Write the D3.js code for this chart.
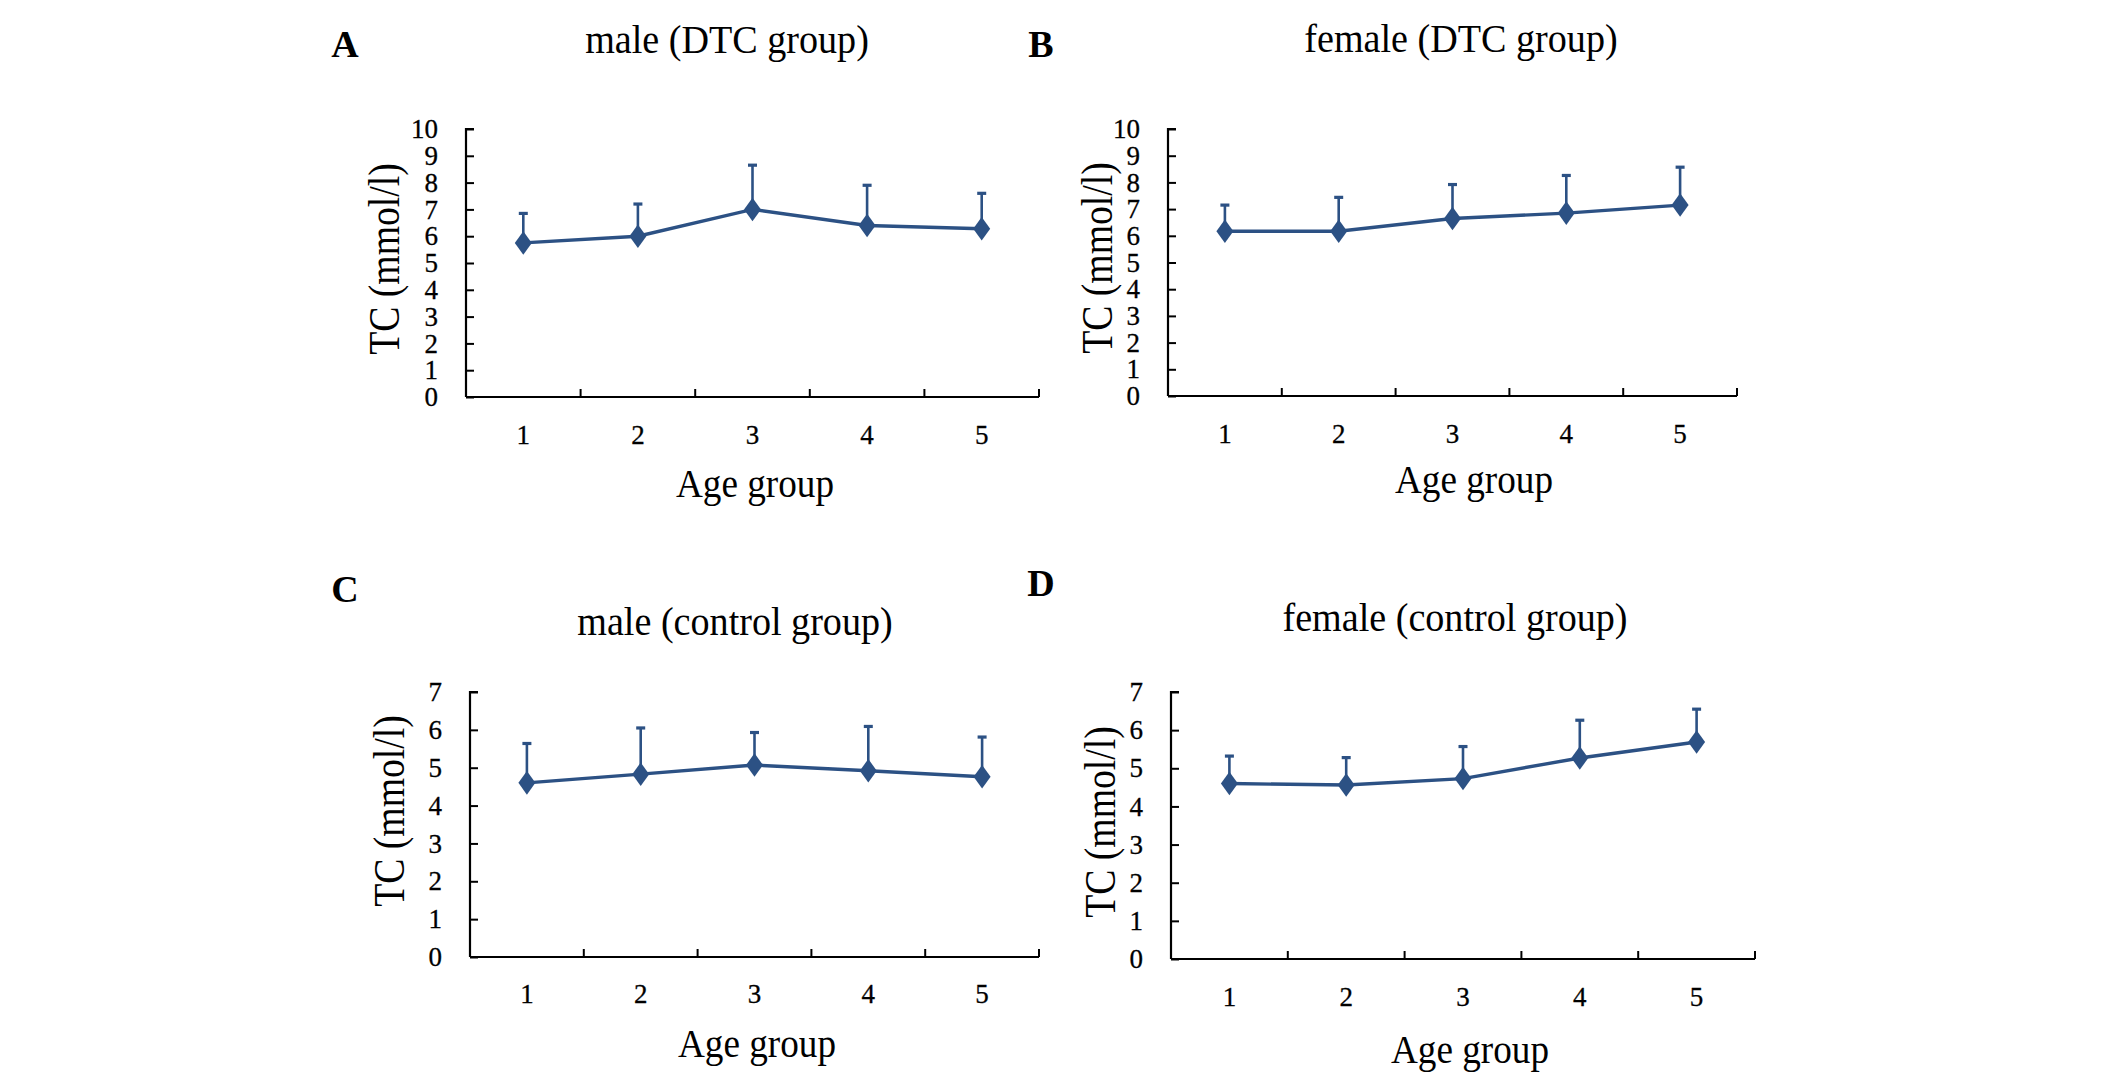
<!DOCTYPE html>
<html>
<head>
<meta charset="utf-8">
<script src="https://cdn.jsdelivr.net/npm/d3@7"></script>
<style>
  html, body { margin: 0; padding: 0; background: #fff; }
  svg { display: block; }
  text { font-family: "Liberation Serif", "Times New Roman", serif; fill: #000; }
</style>
</head>
<body>
<svg id="chart" width="2126" height="1079"></svg>
<script>
// ---- data ----
const ageGroups = ["1", "2", "3", "4", "5"];
const panelLetters = ["A", "B", "C", "D"];
const panelTitles = ["male (DTC group)", "female (DTC group)", "male (control group)", "female (control group)"];
const yAxisLabel = "TC (mmol/l)";
const xAxisLabel = "Age group";
const yMaxDTC = 10;
const yMaxControl = 7;

const maleDTCMean   = [5.75, 6.00, 7.00, 6.40, 6.28];
const maleDTCSD     = [1.10, 1.20, 1.65, 1.50, 1.32];
const femaleDTCMean = [6.17, 6.17, 6.65, 6.85, 7.15];
const femaleDTCSD   = [0.98, 1.27, 1.27, 1.41, 1.42];
const maleCtrlMean  = [4.60, 4.83, 5.07, 4.92, 4.76];
const maleCtrlSD    = [1.04, 1.22, 0.86, 1.17, 1.05];
const femaleCtrlMean = [4.60, 4.56, 4.73, 5.27, 5.69];
const femaleCtrlSD   = [0.72, 0.72, 0.84, 0.99, 0.86];

// ---- layout ----
const panels = [
  { letter: panelLetters[0], title: panelTitles[0], mean: maleDTCMean, sd: maleDTCSD, yMax: yMaxDTC,
    x0: 466, x1: 1039, yTop: 129, yBot: 397, letterX: 345, letterY: 57, titleX: 727, titleY: 53,
    tickLabelY: 444, xLabelX: 755, xLabelY: 497, yLabelX: 399, yLabelC: 259 },
  { letter: panelLetters[1], title: panelTitles[1], mean: femaleDTCMean, sd: femaleDTCSD, yMax: yMaxDTC,
    x0: 1168, x1: 1737, yTop: 129, yBot: 396, letterX: 1041, letterY: 57, titleX: 1461, titleY: 52,
    tickLabelY: 443, xLabelX: 1474, xLabelY: 493, yLabelX: 1112, yLabelC: 258 },
  { letter: panelLetters[2], title: panelTitles[2], mean: maleCtrlMean, sd: maleCtrlSD, yMax: yMaxControl,
    x0: 470, x1: 1039, yTop: 692, yBot: 957, letterX: 345, letterY: 602, titleX: 735, titleY: 635,
    tickLabelY: 1003, xLabelX: 757, xLabelY: 1057, yLabelX: 404, yLabelC: 811 },
  { letter: panelLetters[3], title: panelTitles[3], mean: femaleCtrlMean, sd: femaleCtrlSD, yMax: yMaxControl,
    x0: 1171, x1: 1755, yTop: 692, yBot: 959, letterX: 1041, letterY: 596, titleX: 1455, titleY: 631,
    tickLabelY: 1006, xLabelX: 1470, xLabelY: 1063, yLabelX: 1115, yLabelC: 822 }
];

const lineColor = "#2c5184";
const svg = d3.select("#chart");

panels.forEach(p => {
  const g = svg.append("g");
  const x = d3.scaleBand().domain(ageGroups).range([p.x0, p.x1]).padding(0);
  const y = d3.scaleLinear().domain([0, p.yMax]).range([p.yBot, p.yTop]);

  // panel letter
  g.append("text").attr("x", p.letterX).attr("y", p.letterY)
    .attr("text-anchor", "middle").attr("font-size", 38).attr("font-weight", "bold")
    .text(p.letter);
  // title
  g.append("text").attr("transform", `translate(${p.titleX},${p.titleY}) scale(0.93,1)`)
    .attr("text-anchor", "middle").attr("font-size", 41)
    .text(p.title);

  // y axis (ticks pointing inward)
  const yAxis = d3.axisLeft(y).ticks(p.yMax).tickSize(-8).tickPadding(28).tickFormat(d3.format("d"));
  const ya = g.append("g").attr("transform", `translate(${p.x0},0)`).call(yAxis);
  ya.attr("font-family", "Liberation Serif");
  ya.select(".domain").attr("stroke", "#000").attr("stroke-width", 2.2).attr("d", `M8,${p.yTop}H0V${p.yBot}`);
  ya.selectAll(".tick line").attr("stroke", "#000").attr("stroke-width", 2);
  ya.selectAll(".tick text").attr("font-size", 27).attr("font-family", "Liberation Serif")
    .attr("fill", "#000").attr("stroke", "#000").attr("stroke-width", 0.3);

  // x axis (ticks at band boundaries, pointing up)
  const bounds = ageGroups.map(c => x(c) + x.bandwidth());
  g.append("line").attr("x1", p.x0).attr("x2", p.x1).attr("y1", p.yBot).attr("y2", p.yBot)
    .attr("stroke", "#000").attr("stroke-width", 2.2);
  g.selectAll(".xtick").data(bounds).enter().append("line")
    .attr("x1", d => d).attr("x2", d => d).attr("y1", p.yBot).attr("y2", p.yBot - 8)
    .attr("stroke", "#000").attr("stroke-width", 2);
  g.selectAll(".xlab").data(ageGroups).enter().append("text")
    .attr("x", d => x(d) + x.bandwidth() / 2).attr("y", p.tickLabelY)
    .attr("text-anchor", "middle").attr("font-size", 27)
    .attr("stroke", "#000").attr("stroke-width", 0.3).text(d => d);

  // axis titles
  g.append("text").attr("transform", `translate(${p.xLabelX},${p.xLabelY}) scale(0.93,1)`)
    .attr("text-anchor", "middle").attr("font-size", 40).text(xAxisLabel);
  g.append("text")
    .attr("transform", `translate(${p.yLabelX},${p.yLabelC}) rotate(-90) scale(0.92,1.06)`)
    .attr("text-anchor", "middle").attr("font-size", 41).text(yAxisLabel);

  const cx = i => x(ageGroups[i]) + x.bandwidth() / 2;
  // error bars (upper only)
  const eb = g.append("g");
  p.mean.forEach((m, i) => {
    const top = y(m + p.sd[i]);
    eb.append("line").attr("x1", cx(i)).attr("x2", cx(i)).attr("y1", y(m)).attr("y2", top)
      .attr("stroke", lineColor).attr("stroke-width", 2.6);
    eb.append("line").attr("x1", cx(i) - 4.5).attr("x2", cx(i) + 4.5).attr("y1", top).attr("y2", top)
      .attr("stroke", lineColor).attr("stroke-width", 3.2);
  });

  // line
  const line = d3.line().x((d, i) => cx(i)).y(d => y(d));
  g.append("path").datum(p.mean).attr("d", line).attr("fill", "none")
    .attr("stroke", lineColor).attr("stroke-width", 3.4);

  // diamond markers
  const sym = d3.symbol().type(d3.symbolDiamond).size(160);
  g.selectAll(".pt").data(p.mean).enter().append("path")
    .attr("d", sym).attr("transform", (d, i) => `translate(${cx(i)},${y(d)}) scale(1.25,1)`)
    .attr("fill", lineColor);
});
</script>
</body>
</html>
